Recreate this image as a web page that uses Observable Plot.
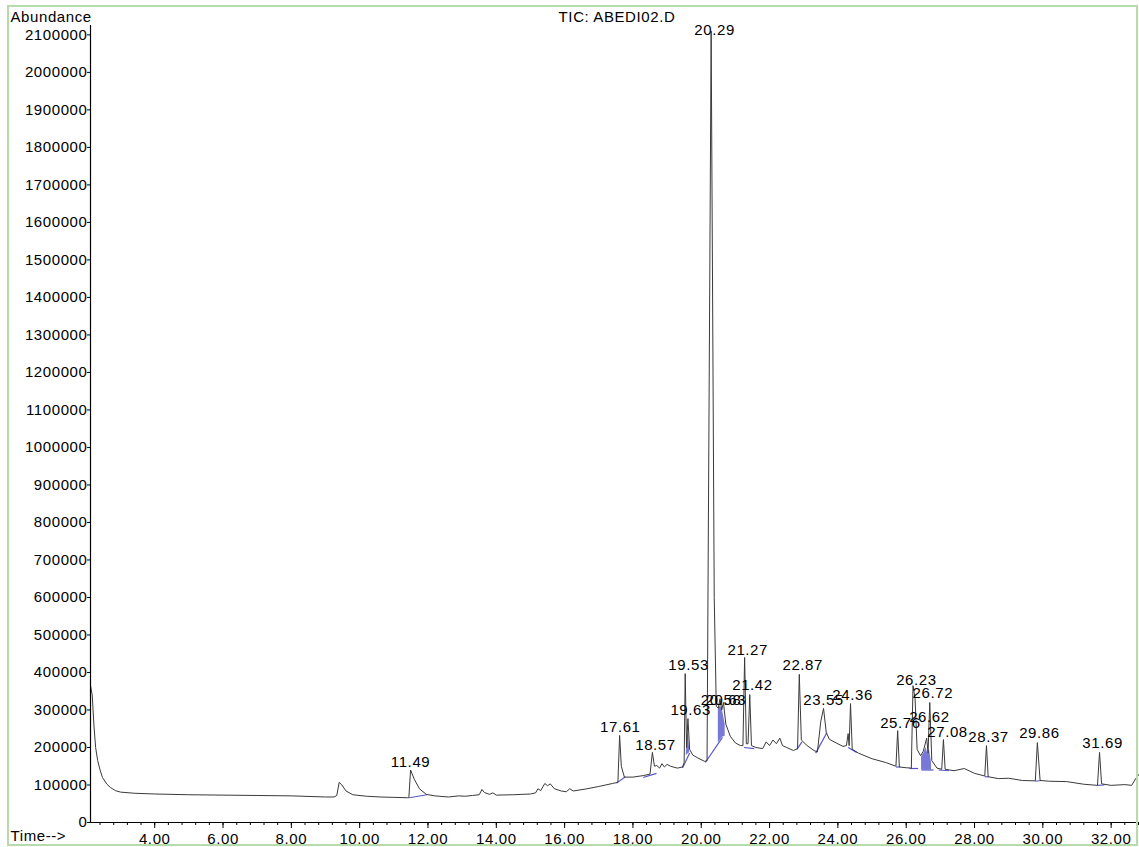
<!DOCTYPE html>
<html>
<head>
<meta charset="utf-8">
<script src="https://cdn.jsdelivr.net/npm/d3@7"></script>
<script src="https://cdn.jsdelivr.net/npm/@observablehq/plot@0.6"></script>
<style>
  html, body { margin: 0; padding: 0; background: #fff; }
  #chart { position: relative; width: 1139px; height: 847px; }
</style>
</head>
<body>
<div id="chart"></div>
<script>
// ---- Data ----
const time = [2.12,2.17,2.22,2.27,2.33,2.40,2.47,2.60,2.71,2.85,3.00,3.40,4.00,5.00,6.00,7.00,8.00,9.00,9.25,9.33,9.40,9.48,9.60,9.80,10.20,10.60,11.00,11.40,11.44,11.49,11.60,11.75,11.95,12.20,12.60,12.90,13.10,13.30,13.50,13.58,13.65,13.80,13.90,14.00,14.50,15.00,15.15,15.22,15.30,15.42,15.50,15.58,15.70,15.90,16.05,16.15,16.25,16.60,17.00,17.40,17.56,17.61,17.66,17.75,18.00,18.30,18.50,18.57,18.63,18.70,18.78,18.85,18.92,19.00,19.10,19.30,19.45,19.50,19.53,19.57,19.61,19.66,19.75,19.90,20.10,20.17,20.29,20.38,20.44,20.50,20.55,20.60,20.65,20.72,20.85,21.00,21.15,21.22,21.27,21.32,21.37,21.42,21.47,21.60,21.80,21.90,22.00,22.10,22.20,22.30,22.38,22.50,22.70,22.82,22.87,22.93,23.10,23.30,23.40,23.50,23.58,23.66,23.75,23.95,24.15,24.25,24.30,24.33,24.37,24.42,24.60,25.00,25.40,25.70,25.75,25.80,26.00,26.15,26.20,26.26,26.32,26.42,26.50,26.60,26.64,26.69,26.75,26.90,27.04,27.09,27.14,27.40,27.70,28.00,28.30,28.35,28.40,28.70,29.00,29.40,29.78,29.84,29.92,30.20,30.70,31.20,31.60,31.66,31.72,32.00,32.40,32.60,32.72,32.83];
const abundance = [365000,340000,260000,200000,165000,140000,120000,102000,93000,85000,81000,78000,76000,74000,73000,72000,71000,68000,68000,72000,107000,100000,84000,74000,70000,68000,67000,66000,66000,140000,115000,90000,75000,71000,68000,71000,70000,72000,74000,88000,80000,75000,79000,73000,74000,76000,79000,90000,85000,104000,98000,103000,90000,84000,82000,90000,84000,89000,96000,104000,107000,232000,150000,121000,121000,125000,129000,187000,150000,152000,145000,157000,148000,155000,150000,145000,148000,160000,397000,200000,277000,195000,180000,172000,163000,165000,2110000,600000,310000,305000,330000,300000,320000,262000,230000,212000,205000,205000,440000,210000,210000,341000,205000,200000,197000,215000,205000,220000,210000,225000,205000,200000,192000,197000,395000,220000,205000,192000,188000,270000,304000,240000,222000,212000,203000,205000,237000,205000,317000,195000,185000,170000,160000,150000,245000,148000,146000,145000,365000,330000,195000,178000,190000,225000,185000,320000,165000,145000,142000,221000,142000,138000,144000,131000,124000,205000,122000,117000,118000,112000,111000,213000,112000,110000,109000,102000,99000,187000,103000,99000,101000,99000,117000,130000];

// integration baselines (blue): start time, start value, end time, end value
const baseT1 = [11.45,17.52,18.30,19.45,20.12,21.25,22.80,23.35,24.30,25.70,26.10,26.45,26.95,28.30,29.78,31.60];
const baseV1 = [66000,105000,120000,145000,160000,200000,195000,185000,200000,148000,144000,140000,140000,122000,110000,99000];
const baseT2 = [11.97,17.78,18.69,19.66,20.62,21.55,22.95,23.68,24.55,25.82,26.35,26.80,27.25,28.42,29.95,31.80];
const baseV2 = [74000,122000,131000,185000,227000,197000,215000,240000,187000,148000,144000,140000,138000,122000,112000,100000];

// shaded integrated areas (blue)
const shadeGroup = ["a","a","a","a","b","b","b","b","c","c","c","c","c","c"];
const shadeTime  = [19.56,19.60,19.63,19.66,20.50,20.56,20.62,20.70,26.45,26.52,26.58,26.63,26.68,26.74];
const shadeLow   = [178000,182000,184000,186000,212000,220000,227000,230000,140000,140000,140000,140000,140000,140000];
const shadeHigh  = [178000,240000,230000,195000,305000,310000,300000,262000,175000,185000,200000,184000,195000,160000];

// peak labels and their anchor positions (data units)
const peakLabels = ["11.49","17.61","18.57","19.53","19.63","20.29","20.58","20.63","21.27","21.42","22.87","23.55","24.36","25.76","26.23","26.72","26.62","27.08","28.37","29.86","31.69"];
const labelTime  = [11.49,17.63,18.66,19.63,19.69,20.39,20.58,20.72,21.36,21.50,22.97,23.58,24.43,25.83,26.30,26.78,26.68,27.21,28.41,29.90,31.75];
const labelValue = [160000,253000,205000,419000,299000,2112000,325000,325000,459000,365000,419000,325000,339000,264000,379000,344000,280000,240000,227000,237000,211000];

const yTicks = d3.range(0, 2100001, 100000);
const xTicks = [4,6,8,10,12,14,16,18,20,22,24,26,28,30,32];
const xMinorTicks = d3.range(2.4, 32.81, 0.4);
const xDomain = [2.12, 32.83];
const yDomain = [0, 2125000];

// ---- tables for the marks ----
const trace = time.map((t, i) => ({t, v: abundance[i]}));
const baselines = baseT1.map((t, i) => ({t1: t, v1: baseV1[i], t2: baseT2[i], v2: baseV2[i]}));
const shade = shadeTime.map((t, i) => ({g: shadeGroup[i], t, lo: shadeLow[i], hi: shadeHigh[i]}));
const labels = peakLabels.map((s, i) => ({s, t: labelTime[i], v: labelValue[i]}));

const blue = "#5656cc";
const font = "'Liberation Sans', Arial, sans-serif";

const chart = Plot.plot({
  width: 1139,
  height: 847,
  marginLeft: 90,
  marginRight: 0,
  marginTop: 25,
  marginBottom: 25,
  style: {fontFamily: font, fontSize: "15px", letterSpacing: "0.6px", background: "#fff", color: "#000", overflow: "visible"},
  x: {domain: xDomain},
  y: {domain: yDomain},
  marks: [
    Plot.areaY(shade, {x: "t", y1: "lo", y2: "hi", z: "g", fill: blue, fillOpacity: 0.8}),
    Plot.link(baselines, {x1: "t1", y1: "v1", x2: "t2", y2: "v2", stroke: blue, strokeWidth: 1.2}),
    Plot.line(trace, {x: "t", y: "v", stroke: "#3a3a3a", strokeWidth: 1}),
    Plot.ruleY([yDomain[0]], {stroke: "#000", strokeWidth: 1}),
    Plot.ruleX([xDomain[0]], {stroke: "#000", strokeWidth: 1.2}),
    Plot.axisY({ticks: yTicks, tickFormat: d => String(d), tickSize: 3, tickPadding: 0, fontSize: 15, label: null}),
    Plot.axisX({ticks: xMinorTicks, tickFormat: () => "", tickSize: 3, label: null}),
    Plot.axisX({ticks: xTicks, tickFormat: d => d.toFixed(2), tickSize: 6, tickPadding: 5, fontSize: 15, label: null}),
    Plot.text(labels, {x: "t", y: "v", text: "s", fontSize: 15, fill: "#000"}),
    Plot.text(["Abundance"], {frameAnchor: "top-left", dx: -80, dy: -14, textAnchor: "start", fontSize: 15}),
    Plot.text(["TIC: ABEDI02.D"], {frameAnchor: "top", dx: 2, dy: -14, fontSize: 15}),
    Plot.text(["Time-->"], {frameAnchor: "bottom-left", dx: -80, dy: 18, textAnchor: "start", fontSize: 15})
  ]
});

document.getElementById("chart").appendChild(chart);

// light green outer border of the instrument report frame
d3.select(chart).append("rect")
  .attr("x", 8).attr("y", 6).attr("width", 1129).attr("height", 839)
  .attr("fill", "none").attr("stroke", "#b5dcaa").attr("stroke-width", 2);
</script>
</body>
</html>
